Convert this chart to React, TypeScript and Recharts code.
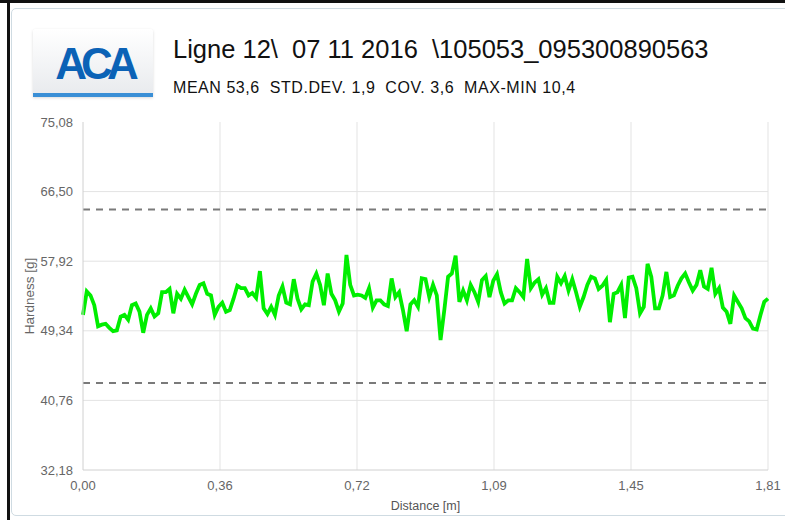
import { LineChart, Line, XAxis, YAxis, CartesianGrid, ReferenceLine, Label } from "recharts";

// hardness readings along the sample, left to right
const hardness = [
  51.3, 54.2, 53.7, 52.5, 49.9, 50.1, 50.2, 49.7, 49.3, 49.4, 51.1, 51.3, 50.7, 52.5, 52.7, 51.7, 49.1, 51.3, 52.1, 51.1,
  51.5, 54.1, 54.1, 54.5, 51.5, 53.9, 53.3, 54.4, 53.5, 52.6, 53.9, 55.0, 55.2, 53.9, 53.7, 51.3, 52.3, 52.8,
  51.7, 51.9, 53.3, 54.9, 54.6, 54.6, 53.7, 54.0, 53.4, 56.7, 52.1, 51.4, 52.3, 51.3, 53.7, 54.8, 52.8, 52.6, 55.7, 53.3,
  52.0, 52.6, 52.5, 55.4, 56.4, 55.0, 52.5, 56.4, 53.9, 53.1, 51.7, 52.7, 58.7, 55.0, 53.7, 53.8, 53.7,
  53.4, 54.6, 52.2, 53.1, 53.1, 52.6, 52.4, 55.8, 53.5, 54.1, 51.9, 49.3, 52.6, 53.1, 52.3, 55.8, 55.7, 53.5, 55.0,
  53.7, 48.2, 51.9, 56.0, 56.4, 58.6, 52.9, 54.3, 53.1, 55.0, 54.1, 52.9, 55.6, 56.1, 53.5, 55.5, 56.3,
  54.1, 52.7, 53.1, 53.1, 54.6, 54.1, 53.5, 58.2, 54.6, 55.3, 55.7, 53.8, 54.6, 52.8, 52.8, 56.0, 55.2, 56.1,
  54.3, 55.7, 54.1, 52.3, 53.5, 55.0, 56.0, 55.8, 54.5, 54.9, 55.6, 50.4, 53.9, 54.1, 55.0, 50.9, 55.9, 56.0,
  54.6, 51.5, 52.3, 57.6, 56.0, 52.1, 52.1, 53.7, 56.6, 53.5, 53.7, 54.9, 55.8, 56.4, 55.3, 54.3, 55.0, 56.8,
  54.8, 54.5, 57.1, 53.9, 54.6, 52.2, 51.7, 50.2, 53.7, 52.9, 52.1, 50.9, 50.5, 49.6, 49.5, 51.3, 52.9, 53.3,
];

const maxDistance = 1.81;
const xTicks = [0, 0.362, 0.724, 1.086, 1.448, 1.81];
const yTicks = [32.18, 40.76, 49.34, 57.92, 66.5, 75.08];
const limitLines = [64.3, 42.9];

const title = "Ligne 12\\  07 11 2016  \\105053_095300890563";
const subtitle = "MEAN 53,6  STD.DEV. 1,9  COV. 3,6  MAX-MIN 10,4";

const data = hardness.map((v, i) => ({
  distance: (i * maxDistance) / (hardness.length - 1),
  hardness: v,
}));

const fmt = (v: number) => v.toFixed(2).replace(".", ",");
const font = "'Liberation Sans', Arial, sans-serif";
const tickStyle = { fontSize: 13, fill: "#666", fontFamily: font };

export default function App() {
  return (
    <div style={{ position: "absolute", left: 0, top: 0, width: 785, height: 520, background: "#fff", overflow: "hidden" }}>
      <div style={{ position: "absolute", left: 0, top: 0, width: 785, height: 3, background: "#111" }} />
      <div style={{ position: "absolute", left: 7, top: 0, width: 3, height: 520, background: "#111" }} />
      <div
        style={{
          position: "absolute",
          left: 11,
          top: 8,
          width: 790,
          height: 506,
          border: "1px solid #cfdbe2",
          borderRadius: 5,
          background: "#fff",
        }}
      />

      {/* logo */}
      <div
        style={{
          position: "absolute",
          left: 33,
          top: 29,
          width: 120,
          height: 64,
          background: "linear-gradient(#ffffff, #e9ebee)",
          borderBottom: "4px solid #3a8fd6",
          borderRadius: "3px 3px 0 0",
          boxShadow: "0 1px 3px rgba(0,0,0,0.15)",
        }}
      >
        <div
          style={{
            position: "absolute",
            left: 0,
            width: 122,
            top: 13,
            textAlign: "center",
            fontFamily: font,
            fontWeight: 900,
            fontSize: 44,
            letterSpacing: -6,
            lineHeight: "44px",
            color: "#0b62b6",
          }}
        >
          ACA
        </div>
      </div>

      <svg style={{ position: "absolute", left: 0, top: 0 }} width={785} height={110}>
        <text x={173} y={58} fontFamily={font} fontSize={25.5} fill="#111" style={{ whiteSpace: "pre" }}>
          {title}
        </text>
        <text x={173} y={93} fontFamily={font} fontSize={16} letterSpacing={0.55} fill="#111" style={{ whiteSpace: "pre" }}>
          {subtitle}
        </text>
      </svg>

      <div style={{ position: "absolute", left: 0, top: 100 }}>
        <LineChart width={785} height={420} data={data} margin={{ top: 22, right: 17, bottom: 20, left: 0 }}>
          <CartesianGrid
            stroke="#e3e3e3"
            horizontalValues={[40.76, 49.34, 57.92, 66.5]}
            verticalValues={[0.362, 0.724, 1.086, 1.448, 1.81]}
          />
          <XAxis
            dataKey="distance"
            type="number"
            domain={[0, maxDistance]}
            ticks={xTicks}
            tickFormatter={fmt}
            tick={tickStyle}
            tickLine={false}
            tickSize={0}
            tickMargin={11}
            stroke="#d0d0d0"
            height={30}
          >
            <Label value="Distance [m]" position="insideBottom" offset={-10} style={{ fontSize: 12.5, fill: "#555", fontFamily: font }} />
          </XAxis>
          <YAxis
            type="number"
            domain={[32.18, 75.08]}
            ticks={yTicks}
            tickFormatter={fmt}
            tick={tickStyle}
            tickLine={false}
            tickSize={0}
            tickMargin={10}
            stroke="#d0d0d0"
            width={83}
            allowDataOverflow
          >
            <Label
              value="Hardness [g]"
              angle={-90}
              position="insideLeft"
              offset={29}
              style={{ fontSize: 13.5, fill: "#666", fontFamily: font, textAnchor: "middle" }}
            />
          </YAxis>
          {limitLines.map((y) => (
            <ReferenceLine key={y} y={y} stroke="#7a7a7a" strokeWidth={2} strokeDasharray="7 6" />
          ))}
          <Line
            type="linear"
            dataKey="hardness"
            stroke="#00ee00"
            strokeWidth={3.8}
            dot={false}
            isAnimationActive={false}
          />
        </LineChart>
      </div>
    </div>
  );
}
